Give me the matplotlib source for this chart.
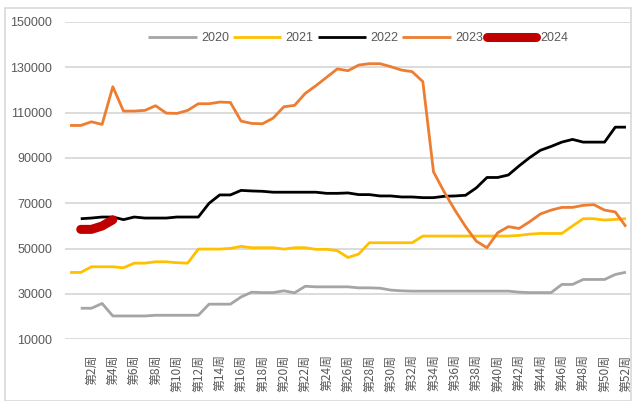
import matplotlib
matplotlib.use("Agg")
import matplotlib.pyplot as plt
from matplotlib.patches import Rectangle

# Categories: first category has a blank label, then week 1..52
categories = [""] + [f"第{n}周" for n in range(1, 53)]

s2020 = [None, 23700, 23700, 25800, 20300, 20300, 20300, 20300, 20600, 20600,
         20600, 20600, 20600, 25500, 25500, 25500, 28700, 30800, 30600, 30600,
         31400, 30500, 33400, 33150, 33150, 33150, 33150, 32700, 32700, 32550,
         31700, 31400, 31250, 31250, 31250, 31250, 31250, 31250, 31250, 31250,
         31250, 31250, 30800, 30600, 30600, 30600, 34200, 34200, 36400, 36400,
         36400, 38600, 39600]
s2021 = [39500, 39500, 42000, 42000, 42000, 41550, 43600, 43600, 44200, 44200,
         43800, 43600, 49800, 49800, 49800, 50100, 51000, 50400, 50400, 50400,
         49800, 50400, 50400, 49700, 49700, 49100, 46100, 47600, 52600, 52600,
         52600, 52600, 52600, 55550, 55550, 55550, 55550, 55550, 55550, 55550,
         55550, 55550, 55850, 56400, 56700, 56700, 56700, 60000, 63200, 63200,
         62600, 62900, 63200]
s2022 = [None, 63200, 63500, 63950, 63950, 62800, 63950, 63500, 63500, 63500,
         63950, 63950, 63950, 70000, 73700, 73700, 75700, 75450, 75300, 74900,
         74900, 74900, 74900, 74900, 74400, 74400, 74580, 73840, 73840, 73250,
         73250, 72800, 72800, 72500, 72500, 73100, 73250, 73550, 76800, 81400,
         81400, 82500, 86500, 90200, 93400, 95100, 97000, 98200, 97000, 97000,
         97000, 103600, 103600]
s2023 = [104350, 104350, 105970, 104800, 121450, 110690, 110700, 111000, 113050, 109800,
         109660, 111000, 113930, 113930, 114670, 114500, 106270, 105240, 105100, 107600,
         112600, 113200, 118500, 121900, 125600, 129300, 128500, 131000, 131600, 131600,
         130300, 128800, 128100, 123700, 83860, 75000, 67000, 59700, 53300, 50400,
         57000, 59700, 58900, 61900, 65300, 67000, 68200, 68200, 69100, 69400,
         67000, 66200, 59700]
s2024 = [None, 58500, 58500, 60000, 62700] + [None] * 48

series_names = ["2020", "2021", "2022", "2023", "2024"]
series_values = [s2020, s2021, s2022, s2023, s2024]
series_colors = ["#A5A5A5", "#FFC000", "#000000", "#ED7D31", "#C00000"]
series_widths = [2.0, 2.0, 2.0, 2.0, 6.5]

yticks = [10000, 30000, 50000, 70000, 90000, 110000, 130000, 150000]

W, H = 632, 401
fig = plt.figure(figsize=(W / 100, H / 100), dpi=100)
fig.patch.set_facecolor("white")
fig.add_artist(Rectangle((5 / W, 0), 1 - 5 / W - 1 / W, 1 - 8 / H,
                         transform=fig.transFigure, fill=False,
                         edgecolor="#D9D9D9", linewidth=1.2))

left, right = 64.7 / W, 631.3 / W
bottom, top = (H - 339.3) / H, (H - 22) / H
ax = fig.add_axes([left, bottom, right - left, top - bottom])

x = list(range(len(categories)))
for name, vals, col, lw in zip(series_names, series_values, series_colors, series_widths):
    xs = [xi for xi, v in zip(x, vals) if v is not None]
    ys = [v for v in vals if v is not None]
    cap = "round" if name == "2024" else "butt"
    ax.plot(xs, ys, color=col, linewidth=lw, label=name,
            solid_capstyle=cap, solid_joinstyle="round", zorder=3)

ax.set_xlim(-0.5, len(categories) - 0.5)
ax.set_ylim(10000, 150000)
ax.set_yticks(yticks)
ax.set_yticklabels([str(v) for v in yticks], family=["Liberation Sans", "DejaVu Sans"],
                   fontsize=9, color="#595959")
ax.yaxis.grid(True, color="#D9D9D9", linewidth=1.3, zorder=0)
ax.set_axisbelow(True)
for s in ax.spines.values():
    s.set_visible(False)
ax.tick_params(axis="both", length=0)
ax.tick_params(axis="y", pad=9)

tick_pos = list(range(2, len(categories), 2))
ax.set_xticks(tick_pos)
ax.set_xticklabels([categories[i] for i in tick_pos], rotation=90,
                   family=["Noto Sans CJK SC", "DejaVu Sans"], fontsize=8.6,
                   color="#595959", va="top", ha="center")
ax.tick_params(axis="x", pad=11)

leg = fig.legend(loc="center", bbox_to_anchor=(358 / W, 1 - 38 / H), ncol=5,
                 frameon=False, handlelength=3.9, handletextpad=0.35,
                 columnspacing=0.3, prop={"family": ["Liberation Sans"], "size": 9})
for t in leg.get_texts():
    t.set_color("#595959")

fig.savefig("out.png", dpi=100)
